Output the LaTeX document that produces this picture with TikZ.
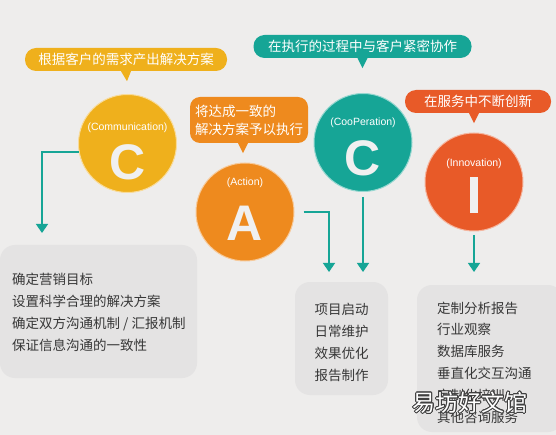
\documentclass[tikz,border=0pt]{standalone}
\usepackage{fontspec}
\setmainfont{Noto Sans CJK SC}
\newfontfamily\latinsf{Liberation Sans}
\usepackage[copies]{contour}
\usetikzlibrary{arrows.meta}
\definecolor{bgGray}{RGB}{238,237,236}
\definecolor{boxGray}{RGB}{228,227,227}
\definecolor{txtGray}{RGB}{55,55,55}
\definecolor{cYellow}{RGB}{239,176,28}
\definecolor{cOrange}{RGB}{238,138,30}
\definecolor{cTeal}{RGB}{22,165,150}
\definecolor{cRed}{RGB}{232,90,40}

\begin{document}
\begin{tikzpicture}[x=1pt,y=1pt,yscale=-1,xscale=1,
  bubble/.style={rounded corners=11pt, inner sep=0pt, text=white, font=\fontsize{13.5}{18}\selectfont},
  disc/.style={circle, inner sep=0pt, minimum size=98pt, draw=white!55!#1, line width=1pt, fill=#1},
  tag/.style={inner sep=0pt, text=white, font=\latinsf\fontsize{10.5}{12}\selectfont},
  letter/.style={inner sep=0pt, text=white!94!black, font=\latinsf\bfseries\fontsize{50}{50}\selectfont},
  panel/.style={rounded corners=15pt, fill=boxGray, inner sep=0pt},
  items/.style={inner sep=0pt, text=txtGray, font=\fontsize{13.5}{21.8}\selectfont},
  link/.style={cTeal, line width=1.4pt, -{Triangle[width=12pt,length=9pt]}}]
\useasboundingbox (0,0) rectangle (556,435);
\fill[bgGray] (0,0) rectangle (556,435);

% Text Node
\node[bubble, fill=cYellow, minimum width=202pt, minimum height=23pt] (bubCom) at (126,59.5) {根据客户的需求产出解决方案};
\fill[cYellow] ([xshift=-5]bubCom.south) -- ++(6,10) -- ++(4,-10) -- cycle;
% Text Node
\node[bubble, fill=cOrange, rounded corners=10pt, minimum width=118pt, minimum height=46pt, align=left] (bubAct) at (249,120) {将达成一致的\\解决方案予以执行};
\fill[cOrange] ([xshift=-11]bubAct.south) -- ++(5,10) -- ++(5,-10) -- cycle;
% Text Node
\node[bubble, fill=cTeal, minimum width=218pt, minimum height=23pt] (bubCoo) at (362.5,46.5) {在执行的过程中与客户紧密协作};
\fill[cTeal] ([xshift=-5]bubCoo.south) -- ++(5,10) -- ++(5,-10) -- cycle;
% Text Node
\node[bubble, fill=cRed, minimum width=146pt, minimum height=23pt] (bubInn) at (478,101.5) {在服务中不断创新};
\fill[cRed] ([xshift=-9]bubInn.south) -- ++(5,10) -- ++(5,-10) -- cycle;

% Circles
\node[disc=cYellow] (discCom) at (127.5,143.5) {};
\node[tag] (tagCom) at (127.5,128) {(Communication)};
\node[letter] (letCom) at (127.5,162) {C};
\node[disc=cOrange] (discAct) at (245,212) {};
\node[tag] (tagAct) at (245,183) {(Action)};
\node[letter] (letAct) at (245,223) {A};
\node[disc=cTeal] (discCoo) at (363,142.5) {};
\node[tag] (tagCoo) at (363,123) {(CooPeration)};
\node[letter] (letCoo) at (363,158) {C};
\node[disc=cRed] (discInn) at (474,182) {};
\node[tag] (tagInn) at (474,164) {(Innovation)};
\node[inner sep=0pt, fill=white!94!black, minimum width=8pt, minimum height=36pt] (letInn) at (474,195) {};

% Panels
\node[panel, minimum width=197pt, minimum height=133pt] (boxCom) at (98.5,311.5) {};
\node[items, anchor=west, align=left] (txtCom) at (12,312.5) {确定营销目标\\设置科学合理的解决方案\\确定双方沟通机制 / 汇报机制\\保证信息沟通的一致性};
\node[panel, minimum width=93pt, minimum height=113pt] (boxAct) at (341.5,338.5) {};
\node[items, align=left] (txtAct) at (341.5,342.5) {项目启动\\日常维护\\效果优化\\报告制作};
\node[panel, minimum width=146pt, minimum height=147pt] (boxInn) at (490,358.5) {};
\node[items, anchor=west, align=left] (txtInn) at (437,362.5) {定制分析报告\\行业观察\\数据库服务\\垂直化交互沟通\\定制化培训\\其他咨询服务};
% Text Node
\node[inner sep=0pt, text=white, font=\fontsize{23}{23}\selectfont] (mark) at (470,403) {\contourlength{0.7pt}\contour{black!75}{易坊好文馆}};

% Connection
\coordinate (endCom) at (42,233);
\coordinate (endAct) at (329,272);
\coordinate (endCoo) at (363,272);
\coordinate (endInn) at (474,272);
\draw[link] (discCom.190) -| (endCom);
\draw[link, shorten <=9pt] (discAct.east) -| (endAct);
\draw[link, shorten <=5pt] (discCoo.south) -- (endCoo);
\draw[link, shorten <=4pt] (discInn.south) -- (endInn);

\end{tikzpicture}
\end{document}
